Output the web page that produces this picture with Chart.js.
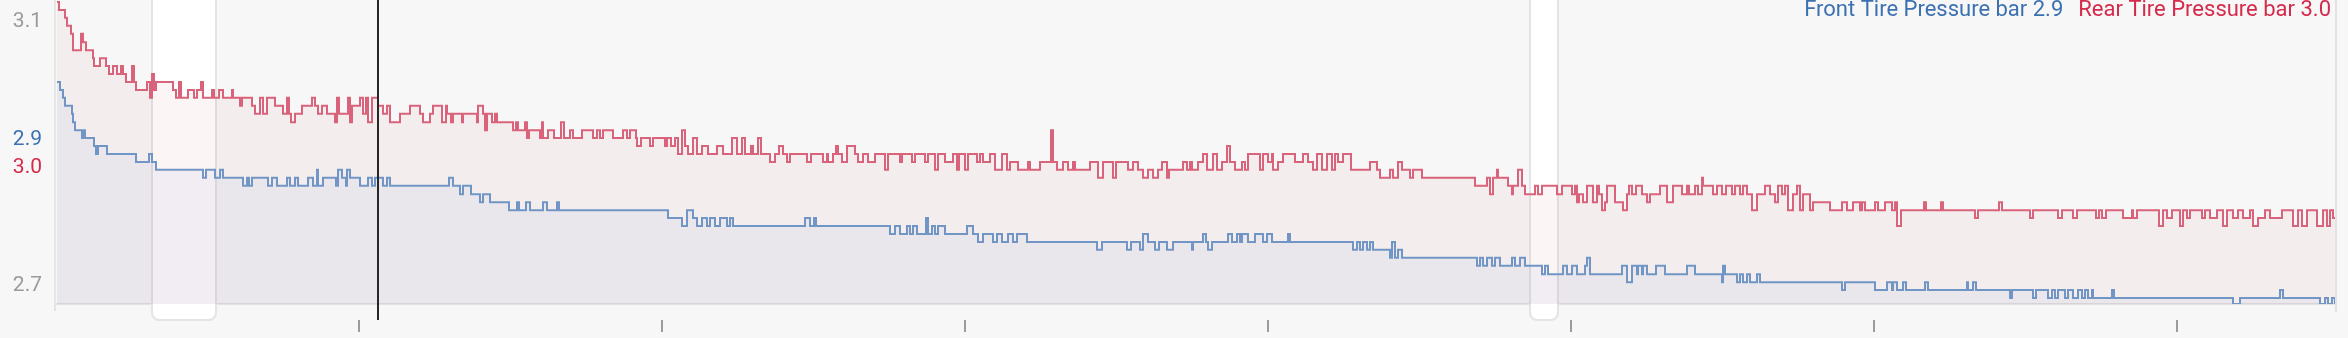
<!DOCTYPE html>
<html>
<head>
<meta charset="utf-8">
<script src="https://cdn.jsdelivr.net/npm/chart.js@4.4.1/dist/chart.umd.min.js"></script>
<style>
  html, body { margin: 0; padding: 0; background: #f7f7f7; overflow: hidden; }
  #wrap { width: 2348px; height: 338px; }
</style>
</head>
<body>
<div id="wrap"><canvas id="tireChart" width="2348" height="338"></canvas></div>
<script>
// sample index (x) and pressure in bar (y), one point per change of value
const frontSeries = [
  [2, 3.006], [5, 2.994], [8, 2.982], [10, 2.970], [17, 2.958], [18, 2.945], [20, 2.933], [27, 2.921],
  [29, 2.933], [30, 2.921], [39, 2.909], [41, 2.897], [43, 2.909], [52, 2.897], [81, 2.885], [94, 2.897],
  [97, 2.885], [101, 2.873], [148, 2.861], [151, 2.873], [160, 2.861], [165, 2.873], [168, 2.861], [188, 2.849],
  [192, 2.861], [194, 2.849], [197, 2.861], [213, 2.849], [217, 2.861], [222, 2.849], [232, 2.861], [235, 2.849],
  [240, 2.861], [243, 2.849], [253, 2.861], [258, 2.849], [262, 2.873], [263, 2.849], [268, 2.861], [281, 2.849],
  [283, 2.873], [287, 2.861], [291, 2.849], [292, 2.873], [295, 2.861], [305, 2.849], [313, 2.861], [317, 2.849],
  [320, 2.861], [328, 2.849], [332, 2.861], [335, 2.849], [394, 2.861], [398, 2.849], [405, 2.836], [408, 2.849],
  [416, 2.836], [425, 2.824], [428, 2.836], [435, 2.824], [454, 2.812], [462, 2.824], [464, 2.812], [471, 2.824],
  [475, 2.812], [488, 2.824], [492, 2.812], [502, 2.824], [504, 2.812], [613, 2.800], [627, 2.788], [632, 2.812],
  [638, 2.800], [642, 2.788], [647, 2.800], [652, 2.788], [655, 2.800], [660, 2.788], [665, 2.800], [672, 2.788],
  [675, 2.800], [678, 2.788], [750, 2.800], [755, 2.788], [759, 2.800], [761, 2.788], [835, 2.776], [840, 2.788],
  [845, 2.776], [852, 2.788], [855, 2.776], [858, 2.788], [862, 2.776], [871, 2.800], [873, 2.776], [877, 2.788],
  [880, 2.776], [883, 2.788], [890, 2.776], [912, 2.788], [918, 2.776], [923, 2.764], [928, 2.776], [938, 2.764],
  [942, 2.776], [947, 2.764], [953, 2.776], [958, 2.764], [962, 2.776], [972, 2.764], [1042, 2.752], [1047, 2.764],
  [1072, 2.752], [1076, 2.764], [1085, 2.752], [1088, 2.776], [1093, 2.764], [1100, 2.752], [1104, 2.764], [1112, 2.752],
  [1118, 2.764], [1137, 2.752], [1138, 2.764], [1148, 2.776], [1151, 2.764], [1153, 2.752], [1157, 2.764], [1173, 2.776],
  [1177, 2.764], [1182, 2.776], [1185, 2.764], [1187, 2.776], [1193, 2.764], [1200, 2.776], [1208, 2.764], [1212, 2.776],
  [1217, 2.764], [1233, 2.776], [1235, 2.764], [1298, 2.752], [1302, 2.764], [1305, 2.752], [1308, 2.764], [1312, 2.752],
  [1315, 2.764], [1318, 2.752], [1335, 2.740], [1337, 2.764], [1340, 2.740], [1343, 2.752], [1347, 2.740], [1422, 2.728],
  [1425, 2.740], [1428, 2.728], [1432, 2.740], [1437, 2.728], [1440, 2.740], [1445, 2.728], [1457, 2.740], [1460, 2.728],
  [1465, 2.740], [1470, 2.728], [1487, 2.715], [1490, 2.728], [1493, 2.715], [1508, 2.728], [1512, 2.715], [1517, 2.728],
  [1520, 2.728], [1522, 2.715], [1530, 2.728], [1532, 2.740], [1535, 2.715], [1567, 2.728], [1572, 2.703], [1577, 2.728],
  [1582, 2.715], [1583, 2.728], [1587, 2.715], [1588, 2.728], [1592, 2.715], [1601, 2.728], [1610, 2.715], [1632, 2.728],
  [1640, 2.715], [1667, 2.703], [1668, 2.728], [1670, 2.715], [1682, 2.703], [1685, 2.715], [1688, 2.703], [1692, 2.715],
  [1695, 2.703], [1702, 2.715], [1705, 2.703], [1787, 2.691], [1790, 2.703], [1820, 2.691], [1832, 2.703], [1837, 2.691],
  [1838, 2.703], [1842, 2.691], [1848, 2.703], [1851, 2.691], [1870, 2.703], [1873, 2.691], [1912, 2.703], [1913, 2.691],
  [1918, 2.703], [1921, 2.691], [1955, 2.679], [1957, 2.691], [1978, 2.679], [1981, 2.691], [1993, 2.679], [1997, 2.691],
  [2000, 2.679], [2003, 2.691], [2010, 2.679], [2013, 2.691], [2018, 2.679], [2023, 2.691], [2027, 2.679], [2030, 2.691],
  [2033, 2.679], [2037, 2.691], [2038, 2.679], [2057, 2.691], [2059, 2.679], [2178, 2.670], [2185, 2.679], [2225, 2.691],
  [2228, 2.679], [2265, 2.670], [2270, 2.679], [2273, 2.670], [2277, 2.679], [2280, 2.670], [2281, 2.670]
];

const rearSeries = [
  [2, 3.127], [4, 3.115], [10, 3.103], [12, 3.091], [16, 3.079], [18, 3.054], [26, 3.079], [28, 3.066],
  [31, 3.054], [38, 3.042], [39, 3.030], [45, 3.042], [51, 3.030], [54, 3.018], [58, 3.030], [62, 3.018],
  [66, 3.030], [68, 3.018], [71, 3.006], [77, 3.030], [79, 3.006], [81, 2.994], [92, 3.006], [95, 2.982],
  [97, 3.018], [99, 2.994], [101, 3.006], [118, 2.994], [121, 2.982], [124, 3.006], [126, 2.982], [133, 2.994],
  [139, 2.982], [142, 2.994], [146, 3.006], [148, 2.982], [157, 2.994], [159, 2.982], [164, 2.994], [168, 2.982],
  [177, 2.994], [178, 2.982], [185, 2.970], [187, 2.982], [197, 2.970], [200, 2.958], [205, 2.982], [208, 2.958],
  [212, 2.982], [220, 2.970], [228, 2.958], [232, 2.982], [234, 2.958], [236, 2.945], [240, 2.958], [247, 2.970],
  [257, 2.982], [260, 2.970], [263, 2.958], [267, 2.970], [272, 2.958], [280, 2.945], [282, 2.982], [284, 2.958],
  [293, 2.982], [295, 2.945], [297, 2.970], [305, 2.982], [308, 2.958], [311, 2.982], [313, 2.945], [317, 2.982],
  [323, 2.970], [328, 2.958], [332, 2.970], [335, 2.945], [345, 2.958], [355, 2.970], [365, 2.958], [368, 2.945],
  [375, 2.958], [378, 2.970], [387, 2.945], [391, 2.970], [392, 2.958], [396, 2.945], [398, 2.958], [407, 2.945],
  [408, 2.958], [422, 2.945], [423, 2.970], [428, 2.958], [430, 2.933], [432, 2.958], [437, 2.945], [440, 2.958],
  [442, 2.945], [458, 2.933], [461, 2.945], [463, 2.933], [470, 2.945], [472, 2.921], [474, 2.933], [485, 2.921],
  [487, 2.945], [488, 2.921], [493, 2.933], [499, 2.921], [506, 2.945], [509, 2.921], [515, 2.933], [518, 2.921],
  [527, 2.933], [538, 2.921], [542, 2.933], [545, 2.921], [548, 2.933], [558, 2.921], [568, 2.933], [572, 2.921],
  [575, 2.933], [581, 2.921], [582, 2.909], [586, 2.921], [595, 2.909], [598, 2.921], [610, 2.909], [612, 2.921],
  [616, 2.909], [620, 2.921], [623, 2.897], [627, 2.933], [630, 2.909], [633, 2.897], [638, 2.921], [642, 2.897],
  [647, 2.909], [653, 2.897], [662, 2.909], [668, 2.897], [677, 2.921], [682, 2.897], [687, 2.921], [690, 2.897],
  [696, 2.909], [698, 2.897], [703, 2.921], [706, 2.897], [715, 2.885], [720, 2.897], [724, 2.909], [728, 2.897],
  [732, 2.885], [735, 2.897], [752, 2.885], [756, 2.897], [768, 2.885], [772, 2.897], [773, 2.885], [778, 2.897],
  [781, 2.909], [783, 2.897], [787, 2.885], [792, 2.909], [800, 2.897], [803, 2.885], [808, 2.897], [813, 2.885],
  [820, 2.897], [830, 2.873], [833, 2.897], [845, 2.885], [847, 2.897], [857, 2.885], [860, 2.897], [870, 2.885],
  [873, 2.897], [880, 2.873], [883, 2.897], [890, 2.885], [898, 2.897], [902, 2.873], [904, 2.897], [910, 2.873],
  [913, 2.897], [922, 2.885], [925, 2.897], [928, 2.885], [935, 2.897], [940, 2.873], [947, 2.897], [952, 2.873],
  [955, 2.885], [963, 2.873], [973, 2.885], [975, 2.873], [985, 2.885], [996, 2.933], [998, 2.885], [1002, 2.873],
  [1008, 2.885], [1013, 2.873], [1018, 2.885], [1020, 2.873], [1035, 2.885], [1043, 2.861], [1048, 2.885], [1058, 2.861],
  [1061, 2.885], [1073, 2.873], [1078, 2.885], [1083, 2.873], [1088, 2.861], [1093, 2.873], [1098, 2.861], [1103, 2.873],
  [1107, 2.885], [1112, 2.861], [1114, 2.873], [1128, 2.885], [1132, 2.873], [1135, 2.885], [1137, 2.873], [1143, 2.885],
  [1148, 2.897], [1152, 2.873], [1158, 2.897], [1162, 2.873], [1167, 2.885], [1172, 2.909], [1175, 2.885], [1180, 2.873],
  [1187, 2.885], [1190, 2.873], [1193, 2.897], [1205, 2.873], [1208, 2.897], [1213, 2.885], [1217, 2.897], [1218, 2.873],
  [1223, 2.885], [1228, 2.897], [1240, 2.885], [1248, 2.897], [1253, 2.885], [1258, 2.873], [1262, 2.897], [1267, 2.873],
  [1272, 2.897], [1277, 2.873], [1280, 2.897], [1283, 2.885], [1288, 2.897], [1296, 2.873], [1315, 2.885], [1322, 2.873],
  [1325, 2.861], [1335, 2.873], [1338, 2.861], [1343, 2.885], [1347, 2.873], [1355, 2.861], [1358, 2.873], [1367, 2.861],
  [1420, 2.849], [1432, 2.861], [1435, 2.836], [1438, 2.861], [1442, 2.873], [1443, 2.861], [1453, 2.849], [1457, 2.836],
  [1458, 2.849], [1463, 2.873], [1467, 2.849], [1470, 2.836], [1480, 2.849], [1483, 2.836], [1487, 2.849], [1502, 2.836],
  [1507, 2.849], [1517, 2.836], [1520, 2.849], [1522, 2.824], [1524, 2.836], [1528, 2.824], [1532, 2.849], [1538, 2.824],
  [1542, 2.849], [1544, 2.836], [1547, 2.812], [1550, 2.824], [1552, 2.849], [1560, 2.824], [1568, 2.812], [1572, 2.836],
  [1574, 2.849], [1577, 2.836], [1581, 2.849], [1587, 2.836], [1592, 2.824], [1595, 2.836], [1605, 2.849], [1612, 2.824],
  [1618, 2.849], [1627, 2.836], [1632, 2.849], [1634, 2.836], [1640, 2.849], [1643, 2.836], [1647, 2.861], [1648, 2.849],
  [1658, 2.836], [1662, 2.849], [1667, 2.836], [1671, 2.849], [1677, 2.836], [1680, 2.849], [1685, 2.836], [1688, 2.849],
  [1692, 2.836], [1697, 2.812], [1702, 2.836], [1710, 2.849], [1715, 2.836], [1720, 2.824], [1723, 2.849], [1727, 2.836],
  [1730, 2.849], [1733, 2.812], [1738, 2.836], [1742, 2.849], [1745, 2.812], [1748, 2.836], [1755, 2.812], [1758, 2.824],
  [1775, 2.812], [1787, 2.824], [1792, 2.812], [1798, 2.824], [1805, 2.812], [1807, 2.824], [1810, 2.812], [1820, 2.824],
  [1823, 2.812], [1830, 2.824], [1837, 2.812], [1840, 2.824], [1842, 2.788], [1846, 2.812], [1869, 2.824], [1871, 2.812],
  [1886, 2.824], [1888, 2.812], [1920, 2.800], [1923, 2.812], [1944, 2.824], [1947, 2.812], [1975, 2.800], [1978, 2.812],
  [2003, 2.800], [2007, 2.812], [2018, 2.800], [2022, 2.812], [2041, 2.800], [2044, 2.812], [2047, 2.800], [2051, 2.812],
  [2068, 2.800], [2077, 2.812], [2078, 2.800], [2082, 2.812], [2104, 2.788], [2108, 2.812], [2112, 2.800], [2117, 2.812],
  [2125, 2.788], [2128, 2.812], [2132, 2.800], [2135, 2.812], [2147, 2.800], [2150, 2.812], [2155, 2.800], [2162, 2.812],
  [2168, 2.788], [2172, 2.812], [2178, 2.800], [2183, 2.812], [2188, 2.800], [2195, 2.812], [2198, 2.788], [2203, 2.800],
  [2210, 2.812], [2215, 2.800], [2227, 2.812], [2238, 2.788], [2243, 2.812], [2247, 2.788], [2252, 2.812], [2262, 2.788],
  [2268, 2.812], [2272, 2.788], [2275, 2.812], [2278, 2.800], [2281, 2.800]
];

const seriesNames = ['Front Tire Pressure bar', 'Rear Tire Pressure bar'];
const cursorValues = [2.9, 3.0];
const cursorX = 323;
const xTicks = [304, 607, 910, 1213, 1516, 1819, 2122];
const yTicks = [2.7, 3.1];
const handleRanges = [[97, 161], [1475, 1503]];

const frontText = '#3c71b1';
const rearText = '#d52a4b';

const overlay = {
  id: 'overlay',
  beforeDatasetsDraw(chart) {
    const ctx = chart.ctx;
    const x = chart.scales.x;
    ctx.save();
    handleRanges.forEach(r => {
      const l = x.getPixelForValue(r[0]);
      const rr = x.getPixelForValue(r[1]);
      ctx.beginPath();
      ctx.roundRect(l, -12, rr - l, 332, 7);
      ctx.fillStyle = '#ffffff';
      ctx.fill();
      ctx.lineWidth = 2;
      ctx.strokeStyle = '#e4e4e4';
      ctx.stroke();
    });
    ctx.restore();
  },
  afterDraw(chart) {
    const ctx = chart.ctx;
    const area = chart.chartArea;
    const x = chart.scales.x;
    ctx.save();

    // left axis stub and right edge
    ctx.strokeStyle = '#e3e3e3';
    ctx.lineWidth = 2;
    ctx.beginPath();
    ctx.moveTo(area.left, area.bottom);
    ctx.lineTo(area.left, area.bottom + 7);
    ctx.moveTo(area.right, 0);
    ctx.lineTo(area.right, area.bottom + 8);
    ctx.stroke();

    // x tick marks
    ctx.strokeStyle = '#9c9c9c';
    ctx.beginPath();
    xTicks.forEach(t => {
      const px = Math.round(x.getPixelForValue(t));
      ctx.moveTo(px, area.bottom + 16);
      ctx.lineTo(px, area.bottom + 28);
    });
    ctx.stroke();

    // cursor line
    const cx = x.getPixelForValue(cursorX);
    ctx.strokeStyle = '#262626';
    ctx.beginPath();
    ctx.moveTo(cx, 0);
    ctx.lineTo(cx, area.bottom + 16);
    ctx.stroke();

    // cursor values next to the axis
    ctx.font = '21px Roboto';
    ctx.textAlign = 'right';
    ctx.textBaseline = 'alphabetic';
    ctx.fillStyle = frontText;
    ctx.fillText(cursorValues[0].toFixed(1), 42, 145);
    ctx.fillStyle = rearText;
    ctx.fillText(cursorValues[1].toFixed(1), 42, 173);

    // legend
    ctx.font = '22px Roboto';
    const rearLabel = seriesNames[1] + ' ' + cursorValues[1].toFixed(1);
    const frontLabel = seriesNames[0] + ' ' + cursorValues[0].toFixed(1);
    const rearRight = 2331;
    ctx.fillStyle = rearText;
    ctx.fillText(rearLabel, rearRight, 16);
    const frontRight = rearRight - ctx.measureText(rearLabel).width - 15;
    ctx.fillStyle = frontText;
    ctx.fillText(frontLabel, frontRight, 16);

    ctx.restore();
  }
};

Chart.defaults.font.family = 'Roboto';

new Chart(document.getElementById('tireChart'), {
  type: 'line',
  data: {
    datasets: [{
      label: seriesNames[0],
      data: frontSeries.map(p => ({ x: p[0], y: p[1] })),
      borderColor: '#7196c5',
      backgroundColor: 'rgba(112,150,196,0.075)',
      borderWidth: 2,
      fill: 'start',
      stepped: true,
      pointRadius: 0,
    }, {
      label: seriesNames[1],
      data: rearSeries.map(p => ({ x: p[0], y: p[1] })),
      borderColor: '#d9637b',
      backgroundColor: 'rgba(217,99,122,0.065)',
      borderWidth: 2,
      fill: 'start',
      stepped: true,
      pointRadius: 0,
    }]
  },
  options: {
    responsive: false,
    animation: false,
    events: [],
    layout: { padding: { left: 0, right: 12, top: 0, bottom: 0 } },
    plugins: {
      legend: { display: false },
      tooltip: { enabled: false },
    },
    scales: {
      x: {
        type: 'linear',
        min: 0,
        max: 2281,
        grid: { display: false, drawTicks: false },
        border: { display: true, color: '#e2e2e2', width: 2 },
        ticks: { display: false },
        afterFit(scale) {
          scale.height = 34;
          scale.paddingLeft = 0;
          scale.paddingRight = 0;
        },
      },
      y: {
        type: 'linear',
        min: 2.67,
        max: 3.13,
        grid: { display: false, drawTicks: false },
        border: { display: true, color: '#e6e6e6', width: 2 },
        afterBuildTicks(scale) {
          scale.ticks = yTicks.map(v => ({ value: v }));
        },
        ticks: {
          color: '#9a9a9a',
          padding: 13,
          labelOffset: 2,
          font: { size: 21 },
          callback: v => v.toFixed(1),
        },
        afterFit(scale) {
          scale.width = 55;
          scale.paddingTop = 0;
          scale.paddingBottom = 0;
        },
      }
    }
  },
  plugins: [overlay]
});
</script>
</body>
</html>
